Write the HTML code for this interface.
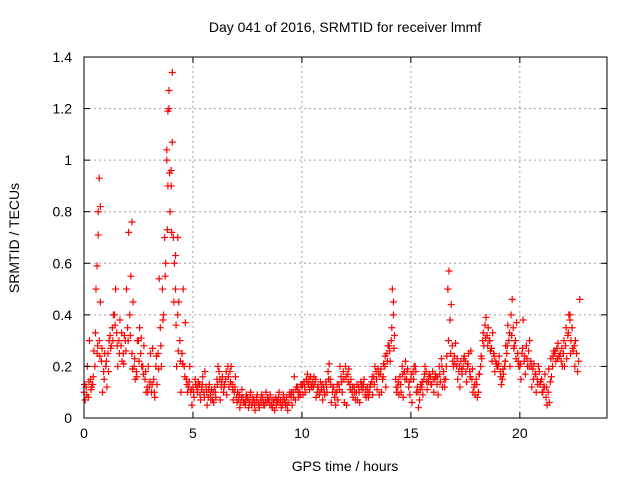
<!DOCTYPE html>
<html><head><meta charset="utf-8"><style>
body{margin:0;background:#fff;}
svg{display:block;font-family:"Liberation Sans",sans-serif;}
</style></head><body>
<svg id="chart" width="640" height="480">
<text x="345" y="32" text-anchor="middle" font-size="14">Day 041 of 2016, SRMTID for receiver lmmf</text>
<text x="345" y="471" text-anchor="middle" font-size="14">GPS time / hours</text>
<text transform="translate(19,238) rotate(-90)" text-anchor="middle" font-size="14">SRMTID / TECUs</text>
<g id="grid"></g><g id="marks"></g><g id="axes"></g>
</svg>
<script>
const xTicks=[0,5,10,15,20];
const yTicks=[0,0.2,0.4,0.6,0.8,1,1.2,1.4];
const yTickLabels=["0","0.2","0.4","0.6","0.8","1","1.2","1.4"];
const seriesA=[0.1,0.12,0.08,0.15,0.13,0.2,0.25,0.3,0.22,0.18,0.2,0.25,0.32,0.35,0.4,0.33,0.3,0.28,0.25,0.3,0.35,0.4,0.25,0.2,0.18,0.3,0.25,0.2,0.15,0.12,0.12,0.1,0.15,0.2,0.25,0.35,0.5,0.7,1.0,1.2,0.9,0.7,0.5,0.4,0.3,0.25,0.2,0.15,0.12,0.1,0.12,0.15,0.1,0.13,0.11,0.1,0.12,0.08,0.09,0.07,0.12,0.15,0.18,0.12,0.1,0.15,0.2,0.18,0.13,0.1,0.08,0.07,0.06,0.08,0.05,0.08,0.06,0.05,0.07,0.06,0.06,0.07,0.08,0.05,0.06,0.07,0.05,0.06,0.08,0.06,0.06,0.05,0.07,0.08,0.06,0.08,0.1,0.07,0.12,0.1,0.12,0.14,0.15,0.13,0.16,0.14,0.13,0.1,0.09,0.11,0.12,0.14,0.18,0.15,0.1,0.08,0.1,0.13,0.16,0.18,0.2,0.17,0.13,0.1,0.12,0.1,0.12,0.14,0.11,0.09,0.12,0.1,0.14,0.16,0.18,0.19,0.17,0.15,0.2,0.25,0.28,0.3,0.4,0.15,0.12,0.16,0.2,0.18,0.15,0.12,0.15,0.18,0.2,0.12,0.07,0.12,0.15,0.18,0.14,0.16,0.18,0.15,0.13,0.2,0.23,0.18,0.15,0.5,0.38,0.28,0.24,0.2,0.18,0.22,0.2,0.22,0.2,0.18,0.15,0.12,0.15,0.1,0.2,0.3,0.36,0.32,0.3,0.27,0.25,0.22,0.2,0.18,0.15,0.2,0.25,0.3,0.4,0.35,0.3,0.25,0.2,0.25,0.22,0.28,0.26,0.22,0.19,0.17,0.15,0.18,0.15,0.12,0.08,0.1,0.14,0.2,0.25,0.27,0.24,0.22,0.25,0.28,0.32,0.38,0.35,0.28,0.25,0.22];
const seriesB=[0.07,0.2,0.3,0.12,0.26,0.5,0.8,0.45,0.1,0.25,0.12,0.3,0.28,0.4,0.5,0.2,0.38,0.22,0.32,0.5,0.72,0.55,0.45,0.15,0.3,0.35,0.2,0.28,0.1,0.2,0.25,0.27,0.08,0.13,0.54,0.2,0.4,0.6,0.9,0.8,1.34,0.6,0.2,0.45,0.1,0.5,0.37,0.1,0.2,0.05,0.08,0.12,0.14,0.07,0.16,0.18,0.05,0.13,0.11,0.06,0.08,0.2,0.07,0.16,0.13,0.09,0.12,0.2,0.07,0.16,0.1,0.04,0.11,0.06,0.09,0.04,0.1,0.08,0.03,0.09,0.04,0.09,0.05,0.1,0.07,0.09,0.04,0.03,0.07,0.1,0.04,0.09,0.05,0.03,0.1,0.05,0.16,0.12,0.08,0.13,0.09,0.1,0.17,0.11,0.12,0.16,0.08,0.12,0.14,0.07,0.09,0.1,0.21,0.06,0.12,0.05,0.07,0.2,0.1,0.06,0.05,0.19,0.15,0.08,0.07,0.07,0.06,0.13,0.15,0.08,0.08,0.13,0.09,0.2,0.11,0.09,0.1,0.21,0.12,0.28,0.22,0.5,0.32,0.1,0.09,0.1,0.08,0.22,0.19,0.09,0.06,0.2,0.1,0.04,0.13,0.09,0.2,0.11,0.17,0.13,0.1,0.16,0.09,0.14,0.12,0.12,0.24,0.57,0.44,0.2,0.29,0.15,0.12,0.17,0.24,0.14,0.25,0.26,0.1,0.09,0.08,0.17,0.23,0.28,0.39,0.35,0.26,0.33,0.18,0.2,0.24,0.13,0.17,0.28,0.36,0.2,0.46,0.28,0.37,0.2,0.15,0.38,0.17,0.2,0.3,0.12,0.21,0.1,0.2,0.14,0.1,0.17,0.05,0.06,0.16,0.26,0.22,0.29,0.25,0.2,0.2,0.23,0.4,0.3,0.26,0.3,0.18,0.46];
const seriesC=[0.13,0.09,0.14,0.11,0.16,0.33,0.28,0.24,0.27,0.15,0.22,0.18,0.27,0.3,0.36,0.28,0.25,0.33,0.21,0.26,0.3,0.32,0.19,0.23,0.16,0.22,0.31,0.17,0.18,0.1,0.14,0.13,0.1,0.24,0.19,0.28,0.38,0.55,0.73,0.95,0.72,0.45,0.36,0.26,0.22,0.21,0.16,0.13,0.14,0.11,0.1,0.13,0.12,0.09,0.13,0.08,0.1,0.11,0.07,0.1,0.1,0.13,0.15,0.14,0.12,0.18,0.16,0.14,0.11,0.12,0.06,0.09,0.08,0.06,0.07,0.07,0.08,0.06,0.05,0.08,0.05,0.06,0.06,0.07,0.08,0.05,0.07,0.07,0.05,0.08,0.07,0.07,0.06,0.05,0.09,0.1,0.08,0.11,0.1,0.09,0.13,0.12,0.14,0.15,0.13,0.12,0.15,0.12,0.1,0.13,0.1,0.12,0.15,0.13,0.12,0.1,0.13,0.11,0.14,0.15,0.16,0.14,0.11,0.12,0.1,0.13,0.1,0.12,0.13,0.11,0.1,0.12,0.16,0.13,0.15,0.17,0.19,0.16,0.24,0.22,0.26,0.35,0.27,0.12,0.14,0.13,0.17,0.15,0.18,0.14,0.17,0.15,0.18,0.1,0.11,0.14,0.17,0.14,0.16,0.13,0.15,0.17,0.16,0.17,0.2,0.15,0.2,0.3,0.25,0.22,0.21,0.23,0.2,0.19,0.23,0.18,0.21,0.16,0.19,0.13,0.13,0.17,0.24,0.33,0.31,0.28,0.3,0.22,0.24,0.21,0.21,0.16,0.19,0.22,0.28,0.33,0.32,0.27,0.23,0.22,0.21,0.27,0.24,0.23,0.2,0.2,0.15,0.17,0.13,0.13,0.1,0.12,0.12,0.19,0.23,0.24,0.26,0.23,0.24,0.27,0.3,0.35,0.33,0.25,0.27,0.2];
const extraX=[0.7,0.65,0.75,2.2,3.9,3.85,4.0,4.05,3.8,4.2,4.3,0.6,16.7,14.2,22.3];
const extraY=[0.93,0.71,0.82,0.76,1.27,1.19,0.96,1.07,1.04,0.63,0.7,0.59,0.5,0.45,0.4];
const X0=84,X1=607,Y0=418,Y1=57,XMAX=24,YMAX=1.4;
const sx=v=>X0+v/XMAX*(X1-X0), sy=v=>Y0-v/YMAX*(Y0-Y1);
const NS="http://www.w3.org/2000/svg";
function mk(t,a,p){const e=document.createElementNS(NS,t);for(const k in a)e.setAttribute(k,a[k]);p.appendChild(e);return e;}
const grid=document.getElementById('grid'),marks=document.getElementById('marks'),axes=document.getElementById('axes');
xTicks.forEach(t=>{const x=sx(t);
 if(t>0){const g=mk('line',{x1:x,y1:Y0,x2:x,y2:Y1,stroke:'#a0a0a0','stroke-dasharray':'2,3'},grid);
 
 }
 mk('line',{x1:x,y1:Y0,x2:x,y2:Y0-6,stroke:'#000'},axes);mk('line',{x1:x,y1:Y1,x2:x,y2:Y1+6,stroke:'#000'},axes);
 const l=mk('text',{x:x,y:Y0+20,'text-anchor':'middle','font-size':14},axes);l.textContent=t;
 
 });
yTicks.forEach((t,i)=>{const y=sy(t);
 if(t>0&&t<YMAX){const g=mk('line',{x1:X0,y1:y,x2:X1,y2:y,stroke:'#a0a0a0','stroke-dasharray':'2,3'},grid);
 
 }
 mk('line',{x1:X0,y1:y,x2:X0+6,y2:y,stroke:'#000'},axes);mk('line',{x1:X1,y1:y,x2:X1-6,y2:y,stroke:'#000'},axes);
 const l=mk('text',{x:X0-12,y:y+5,'text-anchor':'end','font-size':14},axes);l.textContent=yTickLabels[i];
 
 });
const fr=mk('rect',{x:X0,y:Y1,width:X1-X0,height:Y0-Y1,fill:'none',stroke:'#000'},axes);


function plus(x,y){const d=`M${x-3.5},${y}h7M${x},${y-3.5}v7`;const p=mk('path',{d:d,stroke:'#f00','stroke-width':1.2,fill:'none'},marks);
 
 }
seriesA.forEach((v,i)=>plus(sx(i*0.1),sy(v)));
seriesB.forEach((v,i)=>plus(sx(i*0.1+0.05),sy(v)));
seriesC.forEach((v,i)=>plus(sx(i*0.1+0.025),sy(v)));
extraX.forEach((v,i)=>plus(sx(v),sy(extraY[i])));
</script>
</body></html>
